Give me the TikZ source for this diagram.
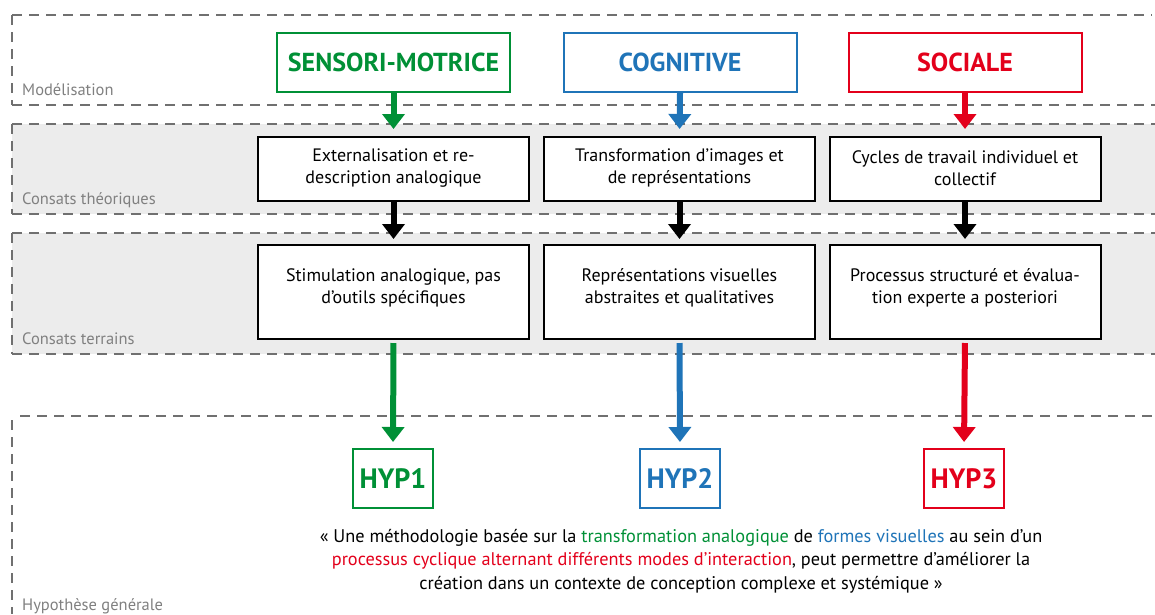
\documentclass[tikz,border=0pt]{standalone}
\usepackage{fontspec}
\setmainfont{PT Sans}
\usetikzlibrary{arrows.meta}
\definecolor{cgreen}{HTML}{009036}
\definecolor{cblue}{HTML}{1F74B8}
\definecolor{cred}{HTML}{E3001B}
\definecolor{bandgray}{HTML}{ECECEC}
\definecolor{dashgray}{HTML}{707070}
\definecolor{labgray}{HTML}{808080}
\tikzset{
  dline/.style={draw=dashgray, line width=1.2pt, dash pattern=on 10pt off 7pt},
  lab/.style={anchor=base west, text=labgray, font=\fontsize{16.5}{18}\selectfont, inner sep=0pt},
  titlebox/.style={draw=#1, line width=2pt, fill=white, minimum width=233pt, minimum height=59pt, text=#1, font=\fontsize{26}{30}\selectfont\bfseries, inner sep=0pt},
  hypbox/.style={draw=#1, line width=2pt, fill=white, minimum width=80pt, minimum height=59pt, text=#1, font=\fontsize{28}{32}\selectfont\bfseries, inner sep=0pt},
  textbox/.style={draw=black, line width=2pt, fill=white, minimum width=271pt, minimum height=#1, inner sep=0pt},
  boxtext/.style={align=center, font=\fontsize{18}{22.5}\selectfont, inner sep=0pt},
  arr/.style={draw=#1, line width=6pt, -{Triangle[width=22pt,length=15pt]}, #1}
}
\begin{document}
\begin{tikzpicture}[x=1pt,y=-1pt]
\useasboundingbox (0,0) rectangle (1155,614);
% bands
\fill[bandgray] (12,124) rectangle (1155,214);
\fill[bandgray] (12,233) rectangle (1155,354);
% dashed lines
\draw[dline] (12,15) -- (1152,15);
\draw[dline] (12,15) -- (12,105);
\draw[dline] (12,105) -- (1155,105);
\draw[dline] (12,124) -- (1155,124);
\draw[dline] (12,124) -- (12,214);
\draw[dline] (12,214) -- (1155,214);
\draw[dline] (12,233) -- (1155,233);
\draw[dline] (12,233) -- (12,354);
\draw[dline] (12,354) -- (1155,354);
\draw[dline] (20,416) -- (1155,416);
\draw[dline] (12,420) -- (12,614);
% labels
\node[lab] (l1) at (22,95) {Modélisation};
\node[lab] (l2) at (22,204) {Consats théoriques};
\node[lab] (l3) at (22,344) {Consats terrains};
\node[lab] (l4) at (22,610) {Hypothèse générale};
% title boxes
\node[titlebox=cgreen] (t1) at (393.5,62.5) {SENSORI-MOTRICE};
\node[titlebox=cblue] (t2) at (680,62.5) {COGNITIVE};
\node[titlebox=cred] (t3) at (965,62.5) {SOCIALE};
% second row
\node[textbox=64pt] (a1) at (393.5,169) {};
\node[textbox=64pt] (a2) at (679.5,169) {};
\node[textbox=64pt] (a3) at (965,169) {};
\node[boxtext] (a1t) at (393.5,168) {Externalisation et re-\\description analogique};
\node[boxtext] (a2t) at (679.5,168) {Transformation d’images et\\de représentations};
\node[boxtext] (a3t) at (965,168) {Cycles de travail individuel et\\collectif};
% third row
\node[textbox=94pt] (b1) at (393.5,292) {};
\node[textbox=94pt] (b2) at (679.5,292) {};
\node[textbox=94pt] (b3) at (965,292) {};
\node[boxtext] (b1t) at (393.5,288) {Stimulation analogique, pas\\d’outils spécifiques};
\node[boxtext] (b2t) at (679.5,288) {Représentations visuelles\\abstraites et qualitatives};
\node[boxtext] (b3t) at (965,288) {Processus structuré et évalua-\\tion experte a posteriori};
% hyp boxes
\node[hypbox=cgreen] (h1) at (393,478.5) {HYP1};
\node[hypbox=cblue] (h2) at (680,478.5) {HYP2};
\node[hypbox=cred] (h3) at (964,478.5) {HYP3};
% arrows
\draw[arr=cgreen, shorten >=7pt] (t1.south) -- (a1.north);
\draw[arr=cblue, shorten >=7pt] (t2.south) -- (a2.north);
\draw[arr=cred, shorten >=7pt] (t3.south) -- (a3.north);
\draw[arr=black, shorten >=5pt] (a1.south) -- (b1.north);
\draw[arr=black, shorten >=5pt] (a2.south) -- (b2.north);
\draw[arr=black, shorten >=5pt] (a3.south) -- (b3.north);
\draw[arr=cgreen, shorten <=3pt, shorten >=6pt] (b1.south) -- (h1.north);
\draw[arr=cblue, shorten <=3pt, shorten >=6pt] (b2.south) -- (h2.north);
\draw[arr=cred, shorten <=3pt, shorten >=6pt] (b3.south) -- (h3.north);
% quote
\node[align=center, font=\fontsize{18.3}{23.5}\selectfont, inner sep=0pt] (q) at (681,561) {« Une méthodologie basée sur la \textcolor{cgreen}{transformation analogique} de \textcolor{cblue}{formes visuelles} au sein d’un\\
\textcolor{cred}{processus cyclique alternant différents modes d’interaction}, peut permettre d’améliorer la\\
création dans un contexte de conception complexe et systémique »};
\end{tikzpicture}
\end{document}
